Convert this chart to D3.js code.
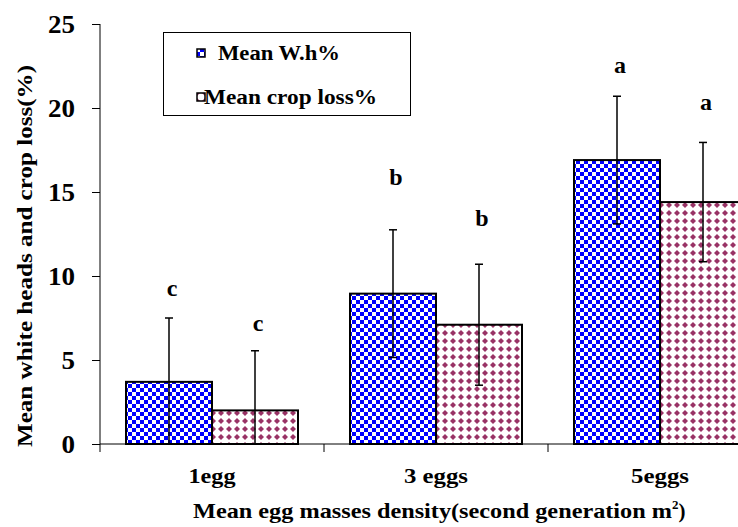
<!DOCTYPE html>
<html><head><meta charset="utf-8">
<script src="https://cdn.jsdelivr.net/npm/d3@7"></script>
<style>html,body{margin:0;padding:0;background:#fff;} svg{display:block;}</style>
</head><body>
<svg id="c" width="738" height="527"></svg>
<script>
const categories = ["1egg", "3 eggs", "5eggs"];
const seriesNames = ["Mean W.h%", "Mean crop loss%"];
const whValues = [3.7, 8.95, 16.9];
const whErrors = [3.8, 3.8, 3.8];
const lossValues = [2.0, 7.1, 14.4];
const lossErrors = [3.55, 3.6, 3.55];
const whLetters = ["c", "b", "a"];
const lossLetters = ["c", "b", "a"];
const whLetterAt = [8.8, 15.4, 22.1];
const lossLetterAt = [6.7, 13.0, 19.9];
const yTicks = [0, 5, 10, 15, 20, 25];

const svg = d3.select("#c");
const font = "'Liberation Serif', 'Times New Roman', serif";
const x0 = 100, y0 = 444;
const x = d3.scaleBand().domain(categories).range([x0, x0 + 224 * 3]).paddingInner(0).paddingOuter(0);
const y = d3.scaleLinear().domain([0, 25]).range([y0, 24]);
const inner = d3.scaleBand().domain([0, 1]).range([26, 198]);

function fit(sel, len) {
  return sel.attr("textLength", len).attr("lengthAdjust", "spacingAndGlyphs");
}

const defs = svg.append("defs");
const pb = defs.append("pattern").attr("id", "blue").attr("patternUnits", "userSpaceOnUse")
  .attr("width", 8).attr("height", 8).attr("x", 0).attr("y", 0);
pb.append("rect").attr("width", 8).attr("height", 8).attr("fill", "#fff");
pb.append("rect").attr("width", 4).attr("height", 4).attr("fill", "#0000ff");
pb.append("rect").attr("x", 4).attr("y", 4).attr("width", 4).attr("height", 4).attr("fill", "#0000ff");

const pp = defs.append("pattern").attr("id", "pink").attr("patternUnits", "userSpaceOnUse")
  .attr("width", 8).attr("height", 8).attr("x", 1).attr("y", 1);
pp.append("rect").attr("width", 8).attr("height", 8).attr("fill", "#fff");
pp.append("path").attr("d", "M4,1 L7,4 L4,7 L1,4 Z").attr("fill", "#993366");

const data = categories.map((c, i) => ({c, i,
  bars: [
    {s: 0, v: whValues[i], e: whErrors[i], l: whLetters[i], la: whLetterAt[i]},
    {s: 1, v: lossValues[i], e: lossErrors[i], l: lossLetters[i], la: lossLetterAt[i]}
  ]}));

const g = svg.append("g");
data.forEach(d => {
  d.bars.forEach(b => {
    const bx = x(d.c) + inner(b.s);
    const w = inner.bandwidth();
    g.append("rect").attr("x", bx).attr("y", y(b.v)).attr("width", w).attr("height", y(0) - y(b.v))
      .attr("fill", b.s === 0 ? "url(#blue)" : "url(#pink)").attr("stroke", "#000").attr("stroke-width", 2);
    const cx = bx + w / 2;
    const hi = y(b.v + b.e), lo = y(Math.max(0, b.v - b.e));
    g.append("line").attr("x1", cx).attr("x2", cx).attr("y1", hi).attr("y2", lo).attr("stroke", "#000").attr("stroke-width", 1.5);
    g.append("line").attr("x1", cx - 4).attr("x2", cx + 4).attr("y1", hi).attr("y2", hi).attr("stroke", "#000").attr("stroke-width", 1.5);
    if (b.v - b.e > 0)
      g.append("line").attr("x1", cx - 4).attr("x2", cx + 4).attr("y1", lo).attr("y2", lo).attr("stroke", "#000").attr("stroke-width", 1.5);
    g.append("text").attr("x", cx + 3).attr("y", y(b.la)).attr("text-anchor", "middle")
      .attr("font-family", font).attr("font-weight", "bold").attr("font-size", 24).attr("fill", "#000").text(b.l);
  });
});

// Axes
svg.append("line").attr("x1", x0).attr("x2", 738).attr("y1", y0).attr("y2", y0).attr("stroke", "#000").attr("stroke-width", 1);
svg.append("line").attr("x1", x0).attr("x2", x0).attr("y1", y(25)).attr("y2", y0 + 8).attr("stroke", "#000").attr("stroke-width", 1);
[1, 2].forEach(k => {
  const tx = x(categories[k]);
  svg.append("line").attr("x1", tx).attr("x2", tx).attr("y1", y0).attr("y2", y0 + 8).attr("stroke", "#000").attr("stroke-width", 1);
});
const yAxis = svg.append("g").attr("transform", `translate(${x0},0)`)
  .call(d3.axisLeft(y).tickValues(yTicks).tickSize(8).tickPadding(17).tickFormat(d3.format("d")));
yAxis.select(".domain").remove();
yAxis.selectAll("text").attr("font-family", font).attr("font-weight", "bold").attr("font-size", 25).attr("fill", "#000").attr("dy", "0.34em")
  .each(function(d) { fit(d3.select(this), String(d).length * 13.5); });
yAxis.selectAll("line").attr("stroke", "#000");

const catWidths = [47, 64, 58];
categories.forEach((c, i) => {
  fit(svg.append("text").attr("x", x(c) + x.bandwidth() / 2).attr("y", 483).attr("text-anchor", "middle")
    .attr("font-family", font).attr("font-weight", "bold").attr("font-size", 20).text(c), catWidths[i]);
});

const xt = svg.append("text").attr("x", 193).attr("y", 518)
  .attr("font-family", font).attr("font-weight", "bold").attr("font-size", 21);
fit(xt.append("tspan").text("Mean egg masses density(second generation m"), 479);
xt.append("tspan").attr("font-size", 13).attr("dy", -9).text("2");
xt.append("tspan").attr("dy", 9).text(")");

fit(svg.append("text").attr("transform", "translate(32,256) rotate(-90)").attr("text-anchor", "middle")
  .attr("font-family", font).attr("font-weight", "bold").attr("font-size", 21).text("Mean white heads and crop loss(%)"), 382);

// Legend
const lg = svg.append("g");
lg.append("rect").attr("x", 163.5).attr("y", 32.5).attr("width", 247).attr("height", 83).attr("fill", "#fff").attr("stroke", "#000").attr("stroke-width", 1);
const legendRows = [{y: 53, fill: "url(#blue)", tx: 218, w: 122}, {y: 97, fill: "url(#pink)", tx: 204, w: 173}];
legendRows.forEach((r, i) => {
  lg.append("rect").attr("x", 197).attr("y", r.y - 4).attr("width", 8).attr("height", 8).attr("fill", r.fill).attr("stroke", "#000").attr("stroke-width", 1.5);
  fit(lg.append("text").attr("x", r.tx).attr("y", r.y + 7).attr("font-family", font).attr("font-weight", "bold").attr("font-size", 20).text(seriesNames[i]), r.w);
});
</script>
</body></html>
